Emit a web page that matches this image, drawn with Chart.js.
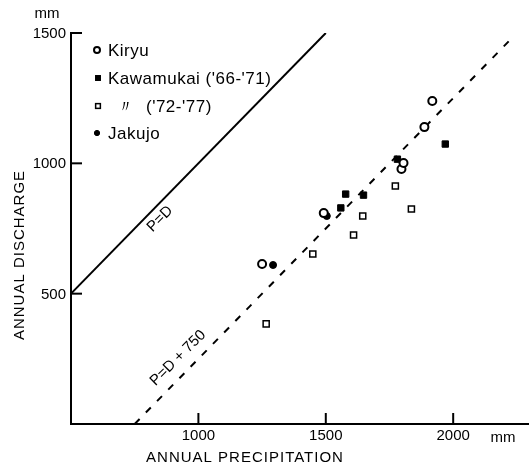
<!DOCTYPE html>
<html>
<head>
<meta charset="utf-8">
<script src="https://cdn.jsdelivr.net/npm/chart.js@4/dist/chart.umd.min.js"></script>
<style>
  body { margin: 0; background: #fff; }
  canvas { display: block; }
</style>
</head>
<body>
<canvas id="chart" width="529" height="469"></canvas>
<script>
// values (mm)
const kiryuX = [1250, 1492, 1797, 1805, 1887, 1918];
const kiryuY = [614, 809, 978, 1001, 1139, 1239];
const kawaEarlyX = [1559, 1578, 1648, 1781, 1969];
const kawaEarlyY = [829, 882, 878, 1016, 1074];
const kawaLateX = [1266, 1449, 1609, 1645, 1773, 1836];
const kawaLateY = [384, 652, 725, 798, 913, 825];
const jakujoX = [1293, 1504];
const jakujoY = [610, 798];

// reference lines
const equalLineX = [500, 1500];
const equalLineY = [500, 1500];
const lossLineX = [750, 2220];
const lossLineY = [0, 1470];

const xTicks = [1000, 1500, 2000];
const yTicks = [500, 1000, 1500];
const legendLabels = ["Kiryu", "Kawamukai ('66-'71)", "('72-'77)", "Jakujo"];

const pts = (xs, ys) => xs.map((x, i) => ({ x: x, y: ys[i] }));

const FONT = "'Liberation Sans', Arial, sans-serif";

const whiteBg = {
  id: "whiteBg",
  beforeDraw(chart) {
    const ctx = chart.ctx;
    ctx.save();
    ctx.fillStyle = "#fff";
    ctx.fillRect(0, 0, chart.width, chart.height);
    ctx.restore();
  },
};

const decorations = {
  id: "decorations",
  afterDraw(chart) {
    const ctx = chart.ctx;
    const xs = chart.scales.x;
    const ys = chart.scales.y;
    const area = chart.chartArea;
    ctx.save();
    ctx.strokeStyle = "#000";
    ctx.fillStyle = "#000";
    ctx.lineWidth = 2;

    // x axis runs off the right edge in the original
    ctx.beginPath();
    ctx.moveTo(area.right - 1, area.bottom);
    ctx.lineTo(chart.width, area.bottom);
    ctx.stroke();

    // inward tick marks + labels
    ctx.font = "15px " + FONT;
    ctx.textAlign = "center";
    ctx.textBaseline = "middle";
    xTicks.forEach((v) => {
      const px = xs.getPixelForValue(v);
      ctx.beginPath();
      ctx.moveTo(px, area.bottom);
      ctx.lineTo(px, area.bottom - 11);
      ctx.stroke();
      ctx.fillText(String(v), px, area.bottom + 12);
    });
    ctx.textAlign = "right";
    yTicks.forEach((v) => {
      const py = ys.getPixelForValue(v);
      ctx.beginPath();
      ctx.moveTo(area.left, py);
      ctx.lineTo(area.left + 11, py);
      ctx.stroke();
      ctx.fillText(String(v), area.left - 5, py + 1);
    });

    // units
    ctx.textAlign = "center";
    ctx.fillText("mm", 47, 14);
    ctx.fillText("mm", 503, area.bottom + 14);

    // axis titles
    ctx.font = "15px " + FONT;
    ctx.letterSpacing = "1px";
    ctx.fillText("ANNUAL PRECIPITATION", 245, 458);
    ctx.save();
    ctx.translate(20, 255);
    ctx.rotate(-Math.PI / 2);
    ctx.fillText("ANNUAL DISCHARGE", 0, 0);
    ctx.restore();
    ctx.letterSpacing = "0px";

    // line labels
    ctx.font = "15px " + FONT;
    ctx.save();
    ctx.translate(160, 219);
    ctx.rotate(-Math.PI / 4);
    ctx.fillText("P=D", 0, 0);
    ctx.restore();
    ctx.save();
    ctx.translate(178, 358);
    ctx.rotate(-Math.PI / 4);
    ctx.fillText("P=D + 750", 0, 0);
    ctx.restore();

    // legend
    const rows = [50, 78, 106, 133];
    ctx.font = "17px " + FONT;
    ctx.letterSpacing = "0.5px";
    ctx.textAlign = "left";
    chart.data.datasets.slice(0, 4).forEach((ds, i) => {
      const y = rows[i];
      ctx.lineWidth = ds.pointBorderWidth;
      ctx.fillStyle = ds.pointBackgroundColor;
      ctx.strokeStyle = "#000";
      if (ds.pointStyle === "circle") {
        ctx.beginPath();
        ctx.arc(97, y, ds.pointRadius * 0.75, 0, Math.PI * 2);
        ctx.fill();
        ctx.stroke();
      } else {
        const s = ds.pointRadius * 1.1;
        ctx.fillRect(98 - s / 2, y - s / 2, s, s);
        ctx.strokeRect(98 - s / 2, y - s / 2, s, s);
      }
      ctx.fillStyle = "#000";
      if (i === 2) {
        ctx.fillText("\u3003", 117, y + 1);
        ctx.fillText(legendLabels[i], 146, y + 1);
      } else {
        ctx.fillText(legendLabels[i], 108, y + 1);
      }
    });
    ctx.restore();
  },
};

new Chart(document.getElementById("chart"), {
  type: "scatter",
  data: {
    datasets: [
      {
        label: legendLabels[0],
        data: pts(kiryuX, kiryuY),
        pointStyle: "circle",
        pointRadius: 4,
        pointBorderWidth: 2,
        pointBackgroundColor: "#fff",
        pointBorderColor: "#000",
      },
      {
        label: legendLabels[1],
        data: pts(kawaEarlyX, kawaEarlyY),
        pointStyle: "rect",
        pointRadius: 4.5,
        pointBorderWidth: 1,
        pointBackgroundColor: "#000",
        pointBorderColor: "#000",
      },
      {
        label: legendLabels[2],
        data: pts(kawaLateX, kawaLateY),
        pointStyle: "rect",
        pointRadius: 4.3,
        pointBorderWidth: 1.5,
        pointBackgroundColor: "#fff",
        pointBorderColor: "#000",
      },
      {
        label: legendLabels[3],
        data: pts(jakujoX, jakujoY),
        pointStyle: "circle",
        pointRadius: 3.5,
        pointBorderWidth: 1,
        pointBackgroundColor: "#000",
        pointBorderColor: "#000",
      },
      {
        label: "P=D",
        type: "line",
        data: pts(equalLineX, equalLineY),
        borderColor: "#000",
        borderWidth: 2,
        pointRadius: 0,
        fill: false,
      },
      {
        label: "P=D+750",
        type: "line",
        data: pts(lossLineX, lossLineY),
        borderColor: "#000",
        borderWidth: 2,
        borderDash: [7, 9],
        pointRadius: 0,
        fill: false,
      },
    ],
  },
  options: {
    responsive: false,
    animation: false,
    layout: { padding: { left: 71, top: 33, right: 0, bottom: 45 } },
    plugins: { legend: { display: false }, tooltip: { enabled: false } },
    scales: {
      x: {
        type: "linear",
        min: 500,
        max: 2274,
        grid: { display: false, drawTicks: false },
        border: { display: true, color: "#000", width: 2 },
        ticks: { display: false },
      },
      y: {
        type: "linear",
        min: 0,
        max: 1500,
        grid: { display: false, drawTicks: false },
        border: { display: true, color: "#000", width: 2 },
        ticks: { display: false },
      },
    },
  },
  plugins: [whiteBg, decorations],
});
</script>
</body>
</html>
